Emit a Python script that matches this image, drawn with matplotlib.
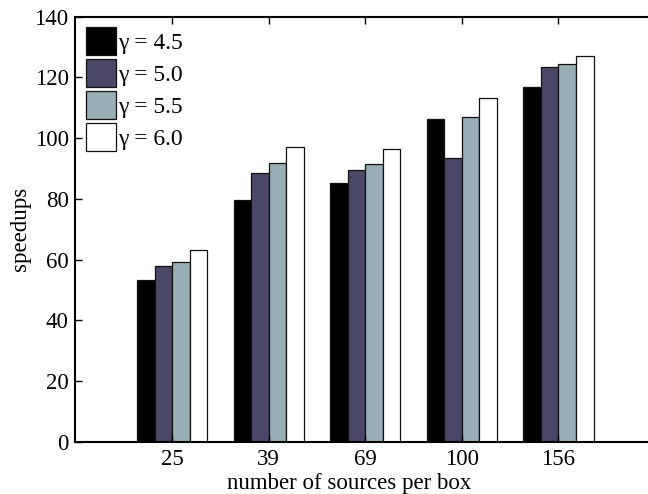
import numpy as np
import matplotlib
matplotlib.use("Agg")
import matplotlib.pyplot as plt

plt.rcParams['font.family'] = ['Liberation Serif', 'DejaVu Serif']

# speedup por número de fontes por caixa, para cada gamma
sources = ['25', '39', '69', '100', '156']
gammas = ['γ = 4.5', 'γ = 5.0', 'γ = 5.5', 'γ = 6.0']
speedup_g45 = [53.3, 79.7, 85.2, 106.2, 116.8]
speedup_g50 = [58.0, 88.5, 89.5, 93.4, 123.5]
speedup_g55 = [59.3, 92.0, 91.6, 107.0, 124.3]
speedup_g60 = [63.3, 97.0, 96.3, 113.1, 127.1]

series = [speedup_g45, speedup_g50, speedup_g55, speedup_g60]
cores = ['#000000', '#4a4866', '#96aeb4', '#ffffff']

fig = plt.figure(figsize=(6.48, 4.94), dpi=100)
ax = fig.add_axes([0.1165, 0.1053, 1.0108 - 0.1165, 0.9662 - 0.1053])

x = np.arange(1, len(sources) + 1)
n = len(series)
largura_grupo = n / (n + 1.5)
w = largura_grupo / n
for i, (vals, c, lab) in enumerate(zip(series, cores, gammas)):
    pos = x - largura_grupo / 2 + w * (i + 0.5)
    ax.bar(pos, vals, width=w, color=c, edgecolor='#111111', linewidth=0.9, label=lab)

ax.set_xlim(0, 6)
ax.set_ylim(0, 140)
ax.set_xticks(x)
ax.set_xticklabels(sources)
ax.set_yticks(np.arange(0, 141, 20))
ax.tick_params(direction='in', length=5, width=1, labelsize=16.5, top=True, right=False, pad=5)

for s in ['left', 'bottom', 'top']:
    ax.spines[s].set_linewidth(1.5)
ax.spines['right'].set_visible(False)

ax.set_xlabel('number of sources per box', fontsize=16.5)
ax.xaxis.set_label_coords(0.472, -0.072)
ax.set_ylabel('speedups', fontsize=16.5)
ax.yaxis.set_label_coords(-0.076, 0.5)

ax.legend(loc='upper left', frameon=False, fontsize=17, handlelength=1.27, handleheight=1.4,
          handletextpad=0.1, labelspacing=0.2, borderaxespad=0.25, borderpad=0.2)

fig.savefig('out.png', dpi=100)
